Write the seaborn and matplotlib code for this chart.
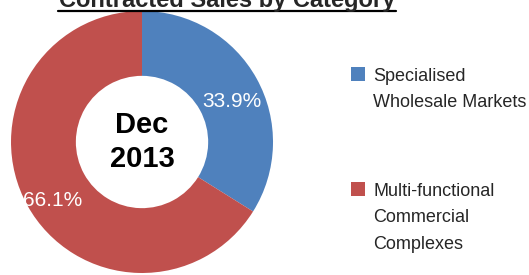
import matplotlib
matplotlib.use("Agg")
import matplotlib.pyplot as plt
from matplotlib.lines import Line2D
import seaborn as sns

# data
categories = ["Specialised\nWholesale Markets", "Multi-functional\nCommercial\nComplexes"]
shares = [33.9, 66.1]
colors = ["#4F81BD", "#C0504D"]
title = "Contracted Sales by Category"
centre_label = "Dec\n2013"

sns.set_style("white")
plt.rcParams['font.family'] = ['Liberation Sans', 'DejaVu Sans']

fig = plt.figure(figsize=(5.29, 2.75), dpi=100)
ax = fig.add_axes([0.0208, 0.0073, 0.4953, 0.9527])

wedges, texts, autotexts = ax.pie(shares, colors=colors, startangle=90, counterclock=False,
                                  autopct='%1.1f%%', pctdistance=0.78,
                                  wedgeprops=dict(width=0.495, linewidth=0),
                                  textprops=dict(color='white', fontsize=15))
# nudge the percentage labels down a little, like the original
for t in autotexts:
    x, y = t.get_position()
    t.set_position((x, y - 0.07))

ax.set_xlim(-1, 1)
ax.set_ylim(-1, 1)
ax.set_aspect('equal')
ax.axis('off')

ax.text(0, 0.0, centre_label, ha='center', va='center', fontsize=21, fontweight='bold',
        linespacing=1.25, color='black')

# title, partly cut off at the top, underlined
fig.text(0.429, 0.975, title, ha='center', va='baseline', fontsize=17, fontweight='bold')
fig.add_artist(Line2D([58/529, 396/529], [1-10.5/275, 1-10.5/275], color='black', linewidth=1.6))

leg = fig.legend(wedges, categories, loc='upper left', bbox_to_anchor=(0.6635, 0.754),
                 frameon=False, fontsize=13, handlelength=0.78, handleheight=0.78,
                 handletextpad=0.45, labelspacing=3.95, borderpad=0, borderaxespad=0)
for t in leg.get_texts():
    t.set_linespacing(1.75)

# line the legend squares up with the first line of each label
fig.canvas.draw()
renderer = fig.canvas.get_renderer()
for patch, t in zip(leg.legend_handles, leg.get_texts()):
    bb = t.get_window_extent(renderer)
    w, h, d = renderer.get_text_width_height_descent("lp", t.get_fontproperties(), ismath=False)
    first_baseline = bb.y1 - (h - d)
    pb = patch.get_window_extent(renderer)
    shift = (first_baseline - pb.y0) * 72.0 / fig.dpi
    patch.set_y(patch.get_y() + shift)

fig.savefig("out.png", dpi=100)
